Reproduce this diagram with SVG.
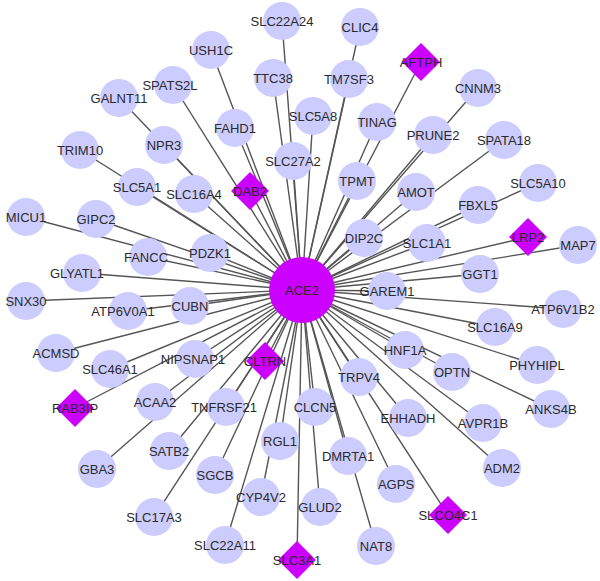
<svg xmlns="http://www.w3.org/2000/svg" width="600" height="581" viewBox="0 0 600 581">
<style>
.e{stroke:#555;stroke-width:1.4;fill:none}
.c{fill:#ccccff}
.d{fill:#cc00ff}
text{font-family:"Liberation Sans",Arial,sans-serif;font-size:13px;fill:#2a2a2a;text-anchor:middle}
</style>
<defs>
<circle id="cn" r="19" class="c"/>
<path id="dm" d="M0,-19 L19,0 L0,19 L-19,0 Z" class="d"/>
</defs>
<rect width="600" height="581" fill="#fff"/>
<g id="edges">
<line class="e" x1="302" y1="290" x2="282" y2="21"/>
<line class="e" x1="302" y1="290" x2="360" y2="27"/>
<line class="e" x1="302" y1="290" x2="211" y2="50"/>
<line class="e" x1="302" y1="290" x2="273" y2="78"/>
<line class="e" x1="302" y1="290" x2="349" y2="79"/>
<line class="e" x1="302" y1="290" x2="313" y2="116"/>
<line class="e" x1="302" y1="290" x2="377" y2="122"/>
<line class="e" x1="302" y1="290" x2="235" y2="128"/>
<line class="e" x1="302" y1="290" x2="293" y2="161"/>
<line class="e" x1="302" y1="290" x2="357" y2="181"/>
<line class="e" x1="302" y1="290" x2="173" y2="85"/>
<line class="e" x1="302" y1="290" x2="119" y2="98"/>
<line class="e" x1="302" y1="290" x2="164" y2="145"/>
<line class="e" x1="302" y1="290" x2="80" y2="150"/>
<line class="e" x1="302" y1="290" x2="137" y2="187"/>
<line class="e" x1="302" y1="290" x2="194" y2="194"/>
<line class="e" x1="302" y1="290" x2="478" y2="88"/>
<line class="e" x1="302" y1="290" x2="433" y2="135"/>
<line class="e" x1="302" y1="290" x2="504" y2="140"/>
<line class="e" x1="302" y1="290" x2="538" y2="183"/>
<line class="e" x1="302" y1="290" x2="416" y2="192"/>
<line class="e" x1="302" y1="290" x2="478" y2="205"/>
<line class="e" x1="302" y1="290" x2="364" y2="238"/>
<line class="e" x1="302" y1="290" x2="427" y2="243"/>
<line class="e" x1="302" y1="290" x2="578" y2="245"/>
<line class="e" x1="302" y1="290" x2="480" y2="274"/>
<line class="e" x1="302" y1="290" x2="387" y2="291"/>
<line class="e" x1="302" y1="290" x2="563" y2="309"/>
<line class="e" x1="302" y1="290" x2="495" y2="327"/>
<line class="e" x1="302" y1="290" x2="405" y2="350"/>
<line class="e" x1="302" y1="290" x2="537" y2="365"/>
<line class="e" x1="302" y1="290" x2="452" y2="372"/>
<line class="e" x1="302" y1="290" x2="359" y2="377"/>
<line class="e" x1="302" y1="290" x2="551" y2="409"/>
<line class="e" x1="302" y1="290" x2="408" y2="418"/>
<line class="e" x1="302" y1="290" x2="483" y2="423"/>
<line class="e" x1="302" y1="290" x2="502" y2="468"/>
<line class="e" x1="302" y1="290" x2="396" y2="484"/>
<line class="e" x1="302" y1="290" x2="376" y2="546"/>
<line class="e" x1="302" y1="290" x2="348" y2="456"/>
<line class="e" x1="302" y1="290" x2="320" y2="507"/>
<line class="e" x1="302" y1="290" x2="315" y2="407"/>
<line class="e" x1="302" y1="290" x2="280" y2="441"/>
<line class="e" x1="302" y1="290" x2="261" y2="497"/>
<line class="e" x1="302" y1="290" x2="225" y2="545"/>
<line class="e" x1="302" y1="290" x2="215" y2="475"/>
<line class="e" x1="302" y1="290" x2="226" y2="407"/>
<line class="e" x1="302" y1="290" x2="169" y2="451"/>
<line class="e" x1="302" y1="290" x2="154" y2="517"/>
<line class="e" x1="302" y1="290" x2="97" y2="469"/>
<line class="e" x1="302" y1="290" x2="155" y2="402"/>
<line class="e" x1="302" y1="290" x2="195" y2="359"/>
<line class="e" x1="302" y1="290" x2="110" y2="369"/>
<line class="e" x1="302" y1="290" x2="56" y2="353"/>
<line class="e" x1="302" y1="290" x2="190" y2="306"/>
<line class="e" x1="302" y1="290" x2="128" y2="311"/>
<line class="e" x1="302" y1="290" x2="26" y2="301"/>
<line class="e" x1="302" y1="290" x2="82" y2="273"/>
<line class="e" x1="302" y1="290" x2="148" y2="257"/>
<line class="e" x1="302" y1="290" x2="210" y2="253"/>
<line class="e" x1="302" y1="290" x2="96" y2="219"/>
<line class="e" x1="302" y1="290" x2="26" y2="217"/>
<line class="e" x1="302" y1="290" x2="421" y2="62"/>
<line class="e" x1="302" y1="290" x2="250" y2="191"/>
<line class="e" x1="302" y1="290" x2="528" y2="237"/>
<line class="e" x1="302" y1="290" x2="265" y2="361"/>
<line class="e" x1="302" y1="290" x2="75" y2="408"/>
<line class="e" x1="302" y1="290" x2="297" y2="560"/>
<line class="e" x1="302" y1="290" x2="448" y2="515"/>
</g>
<g id="n-SLC22A24"><use href="#cn" x="282" y="21"/><text x="282" y="25.6">SLC22A24</text></g>
<g id="n-CLIC4"><use href="#cn" x="360" y="27"/><text x="360" y="31.6">CLIC4</text></g>
<g id="n-USH1C"><use href="#cn" x="211" y="50"/><text x="211" y="54.6">USH1C</text></g>
<g id="n-TTC38"><use href="#cn" x="273" y="78"/><text x="273" y="82.6">TTC38</text></g>
<g id="n-TM7SF3"><use href="#cn" x="349" y="79"/><text x="349" y="83.6">TM7SF3</text></g>
<g id="n-SLC5A8"><use href="#cn" x="313" y="116"/><text x="313" y="120.6">SLC5A8</text></g>
<g id="n-TINAG"><use href="#cn" x="377" y="122"/><text x="377" y="126.6">TINAG</text></g>
<g id="n-FAHD1"><use href="#cn" x="235" y="128"/><text x="235" y="132.6">FAHD1</text></g>
<g id="n-SLC27A2"><use href="#cn" x="293" y="161"/><text x="293" y="165.6">SLC27A2</text></g>
<g id="n-TPMT"><use href="#cn" x="357" y="181"/><text x="357" y="185.6">TPMT</text></g>
<g id="n-SPATS2L"><use href="#cn" x="173" y="85"/><text x="170" y="89.6">SPATS2L</text></g>
<g id="n-GALNT11"><use href="#cn" x="119" y="98"/><text x="119" y="102.6">GALNT11</text></g>
<g id="n-NPR3"><use href="#cn" x="164" y="145"/><text x="164" y="149.6">NPR3</text></g>
<g id="n-TRIM10"><use href="#cn" x="80" y="150"/><text x="80" y="154.6">TRIM10</text></g>
<g id="n-SLC5A1"><use href="#cn" x="137" y="187"/><text x="137" y="191.6">SLC5A1</text></g>
<g id="n-SLC16A4"><use href="#cn" x="194" y="194"/><text x="194" y="198.6">SLC16A4</text></g>
<g id="n-CNNM3"><use href="#cn" x="478" y="88"/><text x="478" y="92.6">CNNM3</text></g>
<g id="n-PRUNE2"><use href="#cn" x="433" y="135"/><text x="433" y="139.6">PRUNE2</text></g>
<g id="n-SPATA18"><use href="#cn" x="504" y="140"/><text x="504" y="144.6">SPATA18</text></g>
<g id="n-SLC5A10"><use href="#cn" x="538" y="183"/><text x="538" y="187.6">SLC5A10</text></g>
<g id="n-AMOT"><use href="#cn" x="416" y="192"/><text x="416" y="196.6">AMOT</text></g>
<g id="n-FBXL5"><use href="#cn" x="478" y="205"/><text x="478" y="209.6">FBXL5</text></g>
<g id="n-DIP2C"><use href="#cn" x="364" y="238"/><text x="364" y="242.6">DIP2C</text></g>
<g id="n-SLC1A1"><use href="#cn" x="427" y="243"/><text x="427" y="247.6">SLC1A1</text></g>
<g id="n-MAP7"><use href="#cn" x="578" y="245"/><text x="578" y="249.6">MAP7</text></g>
<g id="n-GGT1"><use href="#cn" x="480" y="274"/><text x="480" y="278.6">GGT1</text></g>
<g id="n-GAREM1"><use href="#cn" x="387" y="291"/><text x="387" y="295.6">GAREM1</text></g>
<g id="n-ATP6V1B2"><use href="#cn" x="563" y="309"/><text x="563" y="313.6">ATP6V1B2</text></g>
<g id="n-SLC16A9"><use href="#cn" x="495" y="327"/><text x="495" y="331.6">SLC16A9</text></g>
<g id="n-HNF1A"><use href="#cn" x="405" y="350"/><text x="405" y="354.6">HNF1A</text></g>
<g id="n-PHYHIPL"><use href="#cn" x="537" y="365"/><text x="537" y="369.6">PHYHIPL</text></g>
<g id="n-OPTN"><use href="#cn" x="452" y="372"/><text x="452" y="376.6">OPTN</text></g>
<g id="n-TRPV4"><use href="#cn" x="359" y="377"/><text x="359" y="381.6">TRPV4</text></g>
<g id="n-ANKS4B"><use href="#cn" x="551" y="409"/><text x="551" y="413.6">ANKS4B</text></g>
<g id="n-EHHADH"><use href="#cn" x="408" y="418"/><text x="408" y="422.6">EHHADH</text></g>
<g id="n-AVPR1B"><use href="#cn" x="483" y="423"/><text x="483" y="427.6">AVPR1B</text></g>
<g id="n-ADM2"><use href="#cn" x="502" y="468"/><text x="502" y="472.6">ADM2</text></g>
<g id="n-AGPS"><use href="#cn" x="396" y="484"/><text x="396" y="488.6">AGPS</text></g>
<g id="n-NAT8"><use href="#cn" x="376" y="546"/><text x="376" y="550.6">NAT8</text></g>
<g id="n-DMRTA1"><use href="#cn" x="348" y="456"/><text x="348" y="460.6">DMRTA1</text></g>
<g id="n-GLUD2"><use href="#cn" x="320" y="507"/><text x="320" y="511.6">GLUD2</text></g>
<g id="n-CLCN5"><use href="#cn" x="315" y="407"/><text x="315" y="411.6">CLCN5</text></g>
<g id="n-RGL1"><use href="#cn" x="280" y="441"/><text x="280" y="445.6">RGL1</text></g>
<g id="n-CYP4V2"><use href="#cn" x="261" y="497"/><text x="261" y="501.6">CYP4V2</text></g>
<g id="n-SLC22A11"><use href="#cn" x="225" y="545"/><text x="225" y="549.6">SLC22A11</text></g>
<g id="n-SGCB"><use href="#cn" x="215" y="475"/><text x="215" y="479.6">SGCB</text></g>
<g id="n-TNFRSF21"><use href="#cn" x="226" y="407"/><text x="224" y="411.6">TNFRSF21</text></g>
<g id="n-SATB2"><use href="#cn" x="169" y="451"/><text x="169" y="455.6">SATB2</text></g>
<g id="n-SLC17A3"><use href="#cn" x="154" y="517"/><text x="154" y="521.6">SLC17A3</text></g>
<g id="n-GBA3"><use href="#cn" x="97" y="469"/><text x="97" y="473.6">GBA3</text></g>
<g id="n-ACAA2"><use href="#cn" x="155" y="402"/><text x="155" y="406.6">ACAA2</text></g>
<g id="n-NIPSNAP1"><use href="#cn" x="195" y="359"/><text x="193" y="363.6">NIPSNAP1</text></g>
<g id="n-SLC46A1"><use href="#cn" x="110" y="369"/><text x="110" y="373.6">SLC46A1</text></g>
<g id="n-ACMSD"><use href="#cn" x="56" y="353"/><text x="56" y="357.6">ACMSD</text></g>
<g id="n-CUBN"><use href="#cn" x="190" y="306"/><text x="190" y="310.6">CUBN</text></g>
<g id="n-ATP6V0A1"><use href="#cn" x="128" y="311"/><text x="123" y="315.6">ATP6V0A1</text></g>
<g id="n-SNX30"><use href="#cn" x="26" y="301"/><text x="26" y="305.6">SNX30</text></g>
<g id="n-GLYATL1"><use href="#cn" x="82" y="273"/><text x="77" y="277.6">GLYATL1</text></g>
<g id="n-FANCC"><use href="#cn" x="148" y="257"/><text x="146" y="261.6">FANCC</text></g>
<g id="n-PDZK1"><use href="#cn" x="210" y="253"/><text x="210" y="257.6">PDZK1</text></g>
<g id="n-GIPC2"><use href="#cn" x="96" y="219"/><text x="96" y="223.6">GIPC2</text></g>
<g id="n-MICU1"><use href="#cn" x="26" y="217"/><text x="26" y="221.6">MICU1</text></g>
<g id="n-AFTPH"><use href="#dm" x="421" y="62"/><text x="421" y="66.6">AFTPH</text></g>
<g id="n-DAB2"><use href="#dm" x="250" y="191"/><text x="250" y="195.6">DAB2</text></g>
<g id="n-LRP2"><use href="#dm" x="528" y="237"/><text x="528" y="241.6">LRP2</text></g>
<g id="n-CLTRN"><use href="#dm" x="265" y="361"/><text x="265" y="365.6">CLTRN</text></g>
<g id="n-RAB3IP"><use href="#dm" x="75" y="408"/><text x="75" y="412.6">RAB3IP</text></g>
<g id="n-SLC3A1"><use href="#dm" x="297" y="560"/><text x="297" y="564.6">SLC3A1</text></g>
<g id="n-SLCO4C1"><use href="#dm" x="448" y="515"/><text x="448" y="519.6">SLCO4C1</text></g>
<g id="n-ACE2"><circle cx="302" cy="290" r="33" class="d"/><text x="302" y="294.6">ACE2</text></g>
</svg>
